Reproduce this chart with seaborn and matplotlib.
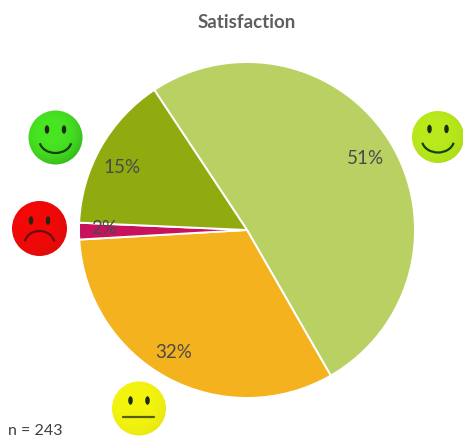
import matplotlib
matplotlib.use("Agg")
import matplotlib.pyplot as plt
import numpy as np
import seaborn as sns
from matplotlib.colors import to_rgb
from matplotlib.patches import Arc, Circle, Ellipse

# Satisfaction shares, clockwise from the top left edge
categories = ["Satisfied", "Neutral", "Unhappy", "Very satisfied"]
values = [51.0, 32.4, 1.6, 15.0]
colors = ["#b9d162", "#f3b21e", "#c8125c", "#8fab0f"]
sample_label = "n = 243"
chart_title = "Satisfaction"

H = 439
# small nudges of the percent labels, in pixels
label_nudges = [(-2, -2), (-6, 3), (-2, 3), (-2, -6)]


def draw_face(ax, x, y, color, edge, mood, r=27):
    # y is measured from the top of the image
    y = H - y
    # soft shading from the face colour towards a darker rim
    gx, gy = np.meshgrid(np.linspace(-1.1, 1.1, 80), np.linspace(-1.1, 1.1, 80))
    t = np.clip(np.hypot(gx + 0.2, gy - 0.2) / 1.3, 0, 1)[..., None] ** 3
    shade = np.array(to_rgb(color)) * (1 - t) + np.array(to_rgb(edge)) * t
    pad = r * 1.1
    im = ax.imshow(shade, extent=(x - pad, x + pad, y - pad, y + pad), origin="lower",
                   interpolation="bilinear", zorder=3)
    im.set_clip_path(Circle((x, y), r, transform=ax.transData))

    for dx in (-8.5, 8.5):
        ax.add_patch(Ellipse((x + dx, y + 8), 4.5, 8.5, fc="#1c2a10", ec="none", zorder=4))
    if mood == "happy":
        ax.add_patch(Arc((x, y - 3), 32, 25, theta1=190, theta2=350, lw=1.6, ec="#14400f", zorder=4))
    elif mood == "sad":
        ax.add_patch(Arc((x, y - 15.5), 30, 26, theta1=10, theta2=170, lw=1.6, ec="#6a1010", zorder=4))
    else:
        ax.plot([x - 15.5, x + 15.5], [y - 8.5, y - 8.5], color="#5a5a10", lw=1.6, zorder=4)


def main():
    sns.set_theme(style="white")
    plt.rcParams["font.family"] = ["Lato", "DejaVu Sans"]

    fig = plt.figure(figsize=(4.64, 4.39), dpi=100)
    ax = fig.add_axes([0, 0, 1, 1])

    wedges, texts, pcts = ax.pie(
        values,
        colors=colors,
        startangle=123.5,
        counterclock=False,
        center=(247, H - 231),
        radius=168,
        autopct="%1.0f%%",
        pctdistance=0.84,
        frame=True,
        wedgeprops={"edgecolor": "white", "linewidth": 1.4},
        textprops={"color": "#4a4a4a", "fontsize": 13.5},
    )
    for txt, (dx, dy) in zip(pcts, label_nudges):
        px, py = txt.get_position()
        txt.set_position((px + dx, py + dy))

    ax.text(247, H - 22, chart_title, ha="center", va="center",
            fontsize=13.5, fontweight="bold", color="#5f5f5f")
    ax.text(8, H - 431, sample_label, ha="left", va="center",
            fontsize=11.5, color="#404040")

    draw_face(ax, 55.5, 138.5, "#48e622", "#35b81c", "happy")
    draw_face(ax, 39.5, 229.5, "#f40808", "#de0c0c", "sad", r=27.5)
    draw_face(ax, 139, 409.5, "#f4f50e", "#e8e810", "neutral")
    draw_face(ax, 438, 138, "#b8ea1c", "#acdc18", "happy", r=26)

    ax.set_aspect("equal")
    ax.set_xlim(0, 464)
    ax.set_ylim(0, H)
    ax.axis("off")

    fig.savefig("out.png", dpi=100)
    plt.close(fig)


if __name__ == "__main__":
    main()
